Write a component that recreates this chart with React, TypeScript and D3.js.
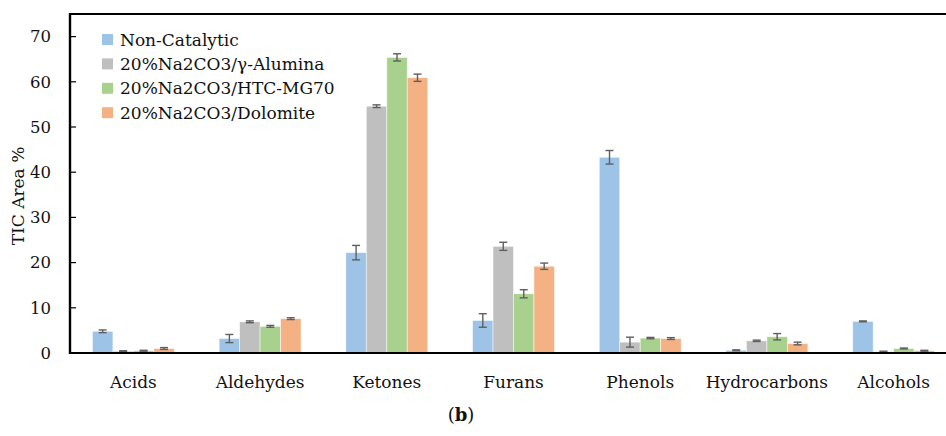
import React from "react";
import * as d3 from "d3";

const categories = ["Acids", "Aldehydes", "Ketones", "Furans", "Phenols", "Hydrocarbons", "Alcohols"];
const seriesNames = ["Non-Catalytic", "20%Na2CO3/γ-Alumina", "20%Na2CO3/HTC-MG70", "20%Na2CO3/Dolomite"];
const seriesColors = ["#9DC3E6", "#BFBFBF", "#A9D18E", "#F4B183"];

const nonCatalytic = [4.8, 3.2, 22.2, 7.2, 43.3, 0.6, 7.0];
const alumina = [0.4, 6.9, 54.6, 23.6, 2.4, 2.7, 0.3];
const htcMg70 = [0.5, 5.9, 65.4, 13.1, 3.3, 3.6, 1.0];
const dolomite = [1.0, 7.6, 60.9, 19.2, 3.2, 2.1, 0.5];

const errNonCatalytic = [0.3, 0.9, 1.6, 1.5, 1.5, 0.1, 0.1];
const errAlumina = [0.1, 0.2, 0.3, 0.9, 1.1, 0.15, 0.1];
const errHtcMg70 = [0.1, 0.2, 0.8, 0.9, 0.15, 0.7, 0.1];
const errDolomite = [0.2, 0.2, 0.8, 0.7, 0.2, 0.3, 0.1];

const values = [nonCatalytic, alumina, htcMg70, dolomite];
const errors = [errNonCatalytic, errAlumina, errHtcMg70, errDolomite];
const yTicks = [0, 10, 20, 30, 40, 50, 60, 70];

const W = 946;
const H = 436;
const left = 70;
const top = 14;
const bottom = 353;
const right = 957;
const FONT = "'DejaVu Serif', serif";

export default function App() {
  const x = d3.scaleBand<string>().domain(categories).range([left, right]).padding(0);
  const bw = x.bandwidth();
  const inner = d3
    .scaleBand<string>()
    .domain(seriesNames)
    .range([bw * 0.177, bw * 0.823])
    .padding(0);
  const y = d3.scaleLinear().domain([0, 75]).range([bottom, top]);

  return (
    <svg
      width={W}
      height={H}
      style={{ position: "absolute", left: 0, top: 0, background: "#fff" }}
      fontFamily={FONT}
    >
      <rect x={0} y={0} width={W} height={H} fill="#fff" />
      {/* bars */}
      {seriesNames.map((s, si) => (
        <g key={s}>
          {categories.map((c, ci) => {
            const v = values[si][ci];
            const bx = (x(c) as number) + (inner(s) as number);
            return (
              <rect
                key={c}
                x={bx}
                y={y(v)}
                width={inner.bandwidth()}
                height={y(0) - y(v)}
                fill={seriesColors[si]}
                stroke="#ffffff"
                strokeOpacity={0.6}
                strokeWidth={0.8}
              />
            );
          })}
        </g>
      ))}
      {/* error bars */}
      {seriesNames.map((s, si) => (
        <g key={"e" + s} stroke="#5f5f5f" strokeWidth={1.4}>
          {categories.map((c, ci) => {
            const v = values[si][ci];
            const e = errors[si][ci];
            const cx = (x(c) as number) + (inner(s) as number) + inner.bandwidth() / 2;
            return (
              <g key={c}>
                <line x1={cx} x2={cx} y1={y(v + e)} y2={y(Math.max(v - e, 0))} />
                <line x1={cx - 4} x2={cx + 4} y1={y(v + e)} y2={y(v + e)} />
                <line x1={cx - 4} x2={cx + 4} y1={y(Math.max(v - e, 0))} y2={y(Math.max(v - e, 0))} />
              </g>
            );
          })}
        </g>
      ))}
      {/* frame */}
      <line x1={left} x2={W} y1={top} y2={top} stroke="#000" strokeWidth={2} />
      <line x1={left} x2={left} y1={top - 1} y2={bottom + 1} stroke="#000" strokeWidth={2.4} />
      <line x1={left} x2={W} y1={bottom} y2={bottom} stroke="#000" strokeWidth={2.2} />
      {/* y ticks */}
      {yTicks.map((t) => (
        <g key={t}>
          <line x1={left} x2={left + 6} y1={y(t)} y2={y(t)} stroke="#000" strokeWidth={1.2} />
          <text x={51} y={y(t)} dy="0.35em" textAnchor="end" fontSize={16.5} fill="#111">
            {t}
          </text>
        </g>
      ))}
      {/* x labels */}
      {categories.map((c) => (
        <text
          key={c}
          x={(x(c) as number) + bw / 2}
          y={388}
          textAnchor="middle"
          fontSize={17}
          fill="#111"
        >
          {c}
        </text>
      ))}
      {/* y title */}
      <text
        transform={`translate(24,196) rotate(-90)`}
        textAnchor="middle"
        fontSize={17}
        fill="#111"
      >
        TIC Area %
      </text>
      {/* legend */}
      {seriesNames.map((s, i) => (
        <g key={"l" + s} transform={`translate(102,${39.5 + i * 24.4})`}>
          <rect x={0} y={-5.5} width={11} height={11} fill={seriesColors[i]} />
          <text x={18} y={0} dy="0.36em" fontSize={17} fill="#111">
            {s}
          </text>
        </g>
      ))}
      {/* caption */}
      <text x={461} y={421} textAnchor="middle" fontSize={18} fill="#111">
        (<tspan fontWeight="bold">b</tspan>)
      </text>
    </svg>
  );
}
